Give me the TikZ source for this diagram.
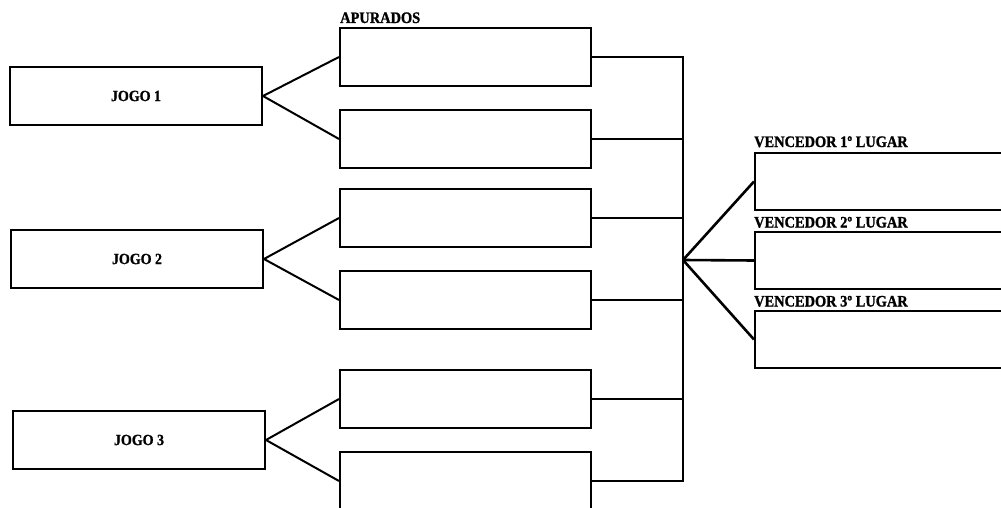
\documentclass[tikz,border=0pt]{standalone}
\usepackage{fontspec}
\setmainfont{Liberation Serif}
\newfontfamily\placarfont[FakeStretch=0.9, BoldFeatures={FakeBold=1.2}]{Liberation Serif}
\usepackage{tikz}
\usetikzlibrary{calc}

\begin{document}
\begin{tikzpicture}[x=1pt, y=-1pt,
  jogo/.style={rectangle, draw, line width=2pt, minimum width=252pt, minimum height=58pt, inner sep=0pt, font=\placarfont\bfseries\fontsize{15.5}{18}\selectfont},
  vaga/.style={rectangle, draw, line width=2pt, minimum width=251pt, minimum height=58pt, inner sep=0pt},
  premio/.style={rectangle, draw, line width=2pt, minimum width=262pt, minimum height=57pt, inner sep=0pt},
  rotulo/.style={anchor=base west, inner sep=0pt, font=\placarfont\bfseries\fontsize{16}{18}\selectfont},
  liga/.style={line width=2pt},
  ligaF/.style={line width=2.6pt}]

\useasboundingbox (0,0) rectangle (1001,508);
\clip (0,0) rectangle (1001,508);

\node[jogo] (J1) at (136,96) {JOGO 1};
\node[jogo] (J2) at (137,259) {JOGO 2};
\node[jogo] (J3) at (139,440) {JOGO 3};

\node[rotulo] (tA) at (340,23) {APURADOS};
\node[vaga] (A1) at (465.5,57) {}; \node[vaga] (A2) at (465.5,139) {};
\node[vaga] (A3) at (465.5,218) {}; \node[vaga] (A4) at (465.5,300) {};
\node[vaga] (A5) at (465.5,399) {}; \node[vaga] (A6) at (465.5,481) {};

\draw[liga] (A1.west)--(J1.east)--(A2.west);
\draw[liga] (A3.west)--(J2.east)--(A4.west);
\draw[liga] (A5.west)--(J3.east)--(A6.west);

\coordinate (hub) at (683,260);
\draw[liga] (A1.east) -| (hub); \draw[liga] (A2.east) -| (hub); \draw[liga] (A3.east) -| (hub);
\draw[liga] (A4.east) -| (hub); \draw[liga] (A5.east) -| (hub); \draw[liga] (A6.east) -| (hub);

\node[rotulo] (t1) at (754,147) {VENCEDOR 1º LUGAR};
\node[premio] (W1) at (886,181.5) {};
\node[rotulo] (t2) at (754,227.5) {VENCEDOR 2º LUGAR};
\node[premio] (W2) at (886,260.5) {};
\node[rotulo] (t3) at (754,306.5) {VENCEDOR 3º LUGAR};
\node[premio] (W3) at (886,339.5) {};

\draw[ligaF] (hub)--(W1.west); \draw[ligaF] (hub)--(W2.west); \draw[ligaF] (hub)--(W3.west);

\end{tikzpicture}
\end{document}
